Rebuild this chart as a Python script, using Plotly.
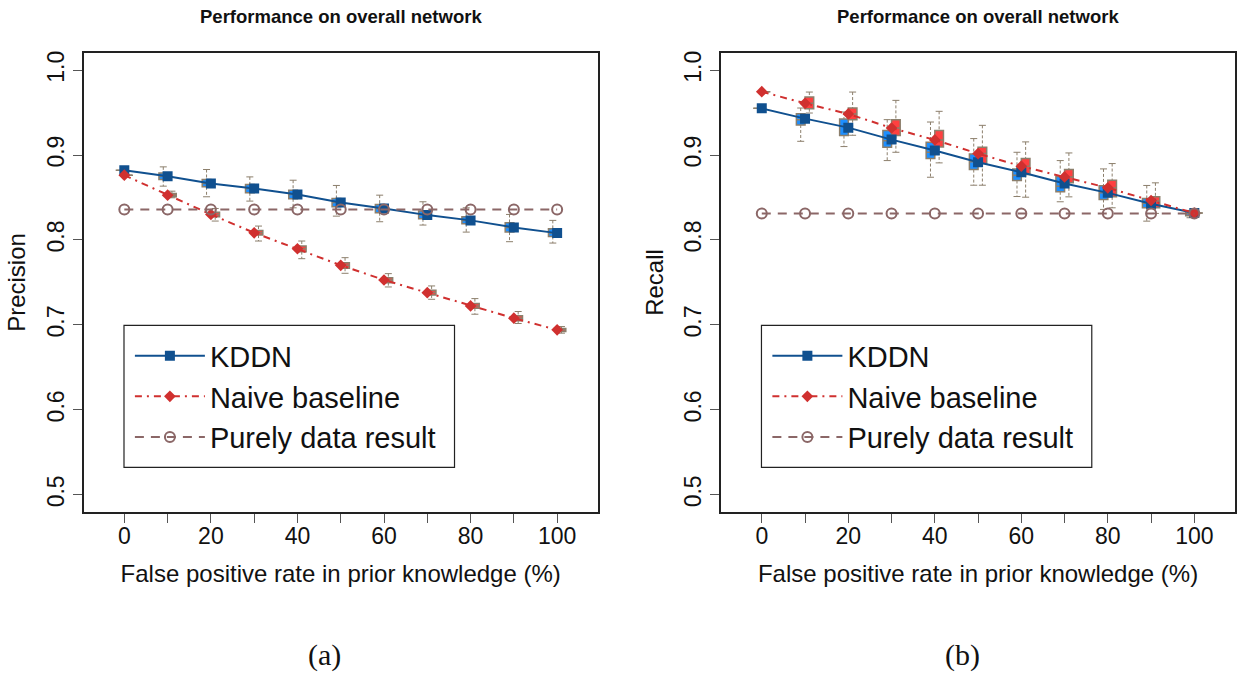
import plotly.graph_objects as go

# ---------------------------------------------------------------- data
fpr = [0, 10, 20, 30, 40, 50, 60, 70, 80, 90, 100]

# mean curves
prec_kddn = [0.882, 0.875, 0.8665, 0.8607, 0.8536, 0.8442, 0.8372, 0.8293, 0.8231, 0.8148, 0.8081]
prec_naive = [0.8763, 0.8528, 0.8301, 0.8085, 0.7897, 0.7702, 0.7529, 0.738, 0.7224, 0.7079, 0.6942]
prec_data = [0.836, 0.836, 0.836, 0.836, 0.836, 0.836, 0.836, 0.836, 0.836, 0.836, 0.836]

rec_kddn = [0.955, 0.9429, 0.9323, 0.9182, 0.9053, 0.8916, 0.8798, 0.8665, 0.8555, 0.8426, 0.8317]
rec_naive = [0.9746, 0.9609, 0.9484, 0.9319, 0.9178, 0.9017, 0.8869, 0.8743, 0.8614, 0.8465, 0.8317]
rec_data = [0.8313, 0.8313, 0.8313, 0.8313, 0.8313, 0.8313, 0.8313, 0.8313, 0.8313, 0.8313, 0.8313]

# box-plot summaries over repeated runs (precision)
prec_kddn_lo = [0.882, 0.8634, 0.8509, 0.8458, 0.8379, 0.8281, 0.8215, 0.8176, 0.8093, 0.798, 0.7964]
prec_kddn_q1 = [0.882, 0.8712, 0.8626, 0.8556, 0.8485, 0.8391, 0.8321, 0.825, 0.8191, 0.8093, 0.8042]
prec_kddn_med = [0.882, 0.8751, 0.8665, 0.8606, 0.8536, 0.8442, 0.8371, 0.8293, 0.823, 0.8148, 0.8082]
prec_kddn_q3 = [0.882, 0.879, 0.8712, 0.8653, 0.8587, 0.8489, 0.8418, 0.834, 0.8274, 0.8203, 0.8133]
prec_kddn_hi = [0.882, 0.8861, 0.883, 0.8743, 0.8704, 0.8642, 0.8528, 0.845, 0.8379, 0.8301, 0.8231]

prec_naive_lo = [0.8763, 0.8497, 0.8223, 0.7988, 0.778, 0.7608, 0.7447, 0.7302, 0.7126, 0.7017, 0.6903]
prec_naive_q1 = [0.8763, 0.8509, 0.8274, 0.8058, 0.7862, 0.7667, 0.7498, 0.7353, 0.7197, 0.7048, 0.6923]
prec_naive_med = [0.8763, 0.8528, 0.8301, 0.8086, 0.7898, 0.7702, 0.753, 0.7381, 0.7224, 0.7079, 0.6942]
prec_naive_q3 = [0.8763, 0.8548, 0.8328, 0.8113, 0.7929, 0.7733, 0.7557, 0.7408, 0.7252, 0.7107, 0.6958]
prec_naive_hi = [0.8763, 0.8575, 0.8371, 0.8164, 0.7988, 0.7792, 0.7604, 0.7459, 0.731, 0.7158, 0.6981]

# box-plot summaries over repeated runs (recall)
rec_kddn_lo = [0.955, 0.9162, 0.91, 0.8935, 0.8739, 0.8645, 0.8512, 0.845, 0.836, 0.8222, 0.8262]
rec_kddn_q1 = [0.955, 0.9354, 0.9229, 0.9092, 0.8959, 0.8829, 0.87, 0.8567, 0.8477, 0.8379, 0.8285]
rec_kddn_med = [0.955, 0.9417, 0.9339, 0.917, 0.9033, 0.892, 0.8763, 0.8634, 0.8555, 0.8434, 0.831]
rec_kddn_q3 = [0.955, 0.9487, 0.9425, 0.9288, 0.9151, 0.9013, 0.8837, 0.8747, 0.8638, 0.8489, 0.8332]
rec_kddn_hi = [0.955, 0.9554, 0.9507, 0.9417, 0.9389, 0.9194, 0.9033, 0.8935, 0.8837, 0.8642, 0.8348]

rec_naive_lo = [0.9746, 0.9495, 0.9233, 0.9033, 0.8908, 0.8645, 0.8504, 0.8508, 0.8379, 0.8313, 0.8317]
rec_naive_q1 = [0.9746, 0.9546, 0.9417, 0.9229, 0.9096, 0.89, 0.8771, 0.8673, 0.8508, 0.8379, 0.8317]
rec_naive_med = [0.9746, 0.9609, 0.9484, 0.9319, 0.9178, 0.9017, 0.8869, 0.8743, 0.8614, 0.8458, 0.8317]
rec_naive_q3 = [0.9746, 0.9683, 0.9554, 0.9417, 0.9288, 0.9092, 0.8959, 0.8829, 0.8704, 0.8508, 0.8317]
rec_naive_hi = [0.9746, 0.9742, 0.9742, 0.9644, 0.9515, 0.935, 0.9155, 0.9025, 0.89, 0.8673, 0.8317]

x_ticks = [0, 10, 20, 30, 40, 50, 60, 70, 80, 90, 100]
x_ticktext = ["0", "", "20", "", "40", "", "60", "", "80", "", "100"]
y_ticks = [0.5, 0.6, 0.7, 0.8, 0.9, 1.0]
y_ticktext = ["0.5", "0.6", "0.7", "0.8", "0.9", "1.0"]

# ---------------------------------------------------------------- styles
FONT = "Liberation Sans, Arial, sans-serif"
C_KDDN = "#10508f"
C_KDDN_BOX = "#1e8fff"
C_NAIVE = "#d0302f"
C_NAIVE_BOX = "#ff4040"
C_DATA = "#8b6767"
C_BOXLINE = "#8c7f6c"
BOX_W = 2.0

fig = go.Figure()


def add_boxes(xa, ya, pos, lo, q1, med, q3, hi, fill):
    # dashed whiskers with end caps
    wx, wy = [], []
    for p, a, b, c, d in zip(pos, lo, q1, q3, hi):
        wx += [p, p, None, p, p, None]
        wy += [d, c, None, b, a, None]
    fig.add_trace(go.Scatter(
        x=wx, y=wy, mode="lines", xaxis=xa, yaxis=ya,
        line=dict(color=C_BOXLINE, width=1, dash="3px,2px"),
        showlegend=False, hoverinfo="skip"))
    fig.add_trace(go.Scatter(
        x=pos + pos, y=lo + hi, mode="markers", xaxis=xa, yaxis=ya,
        marker=dict(symbol="line-ew", size=5, line=dict(color=C_BOXLINE, width=1)),
        showlegend=False, hoverinfo="skip"))
    fig.add_trace(go.Box(
        x=pos, q1=q1, median=med, q3=q3, lowerfence=q1, upperfence=q3,
        width=BOX_W, whiskerwidth=0, fillcolor=fill,
        line=dict(color=C_BOXLINE, width=1.5),
        xaxis=xa, yaxis=ya, showlegend=False, hoverinfo="skip"))


def add_panel(xa, ya, legend, kddn, naive, data, boxes_k, boxes_n):
    left = [x - BOX_W / 2 for x in fpr]
    right = [x + BOX_W / 2 for x in fpr]
    add_boxes(xa, ya, left, *boxes_k, C_KDDN_BOX)
    add_boxes(xa, ya, right, *boxes_n, C_NAIVE_BOX)
    fig.add_trace(go.Scatter(
        x=fpr, y=kddn, name="KDDN", mode="lines+markers", xaxis=xa, yaxis=ya,
        legend=legend,
        line=dict(color=C_KDDN, width=2),
        marker=dict(symbol="square", size=10, color=C_KDDN)))
    fig.add_trace(go.Scatter(
        x=fpr, y=naive, name="Naive baseline", mode="lines+markers", xaxis=xa, yaxis=ya,
        legend=legend,
        line=dict(color=C_NAIVE, width=2, dash="7px,5px,2px,5px"),
        marker=dict(symbol="diamond", size=9, color=C_NAIVE)))
    fig.add_trace(go.Scatter(
        x=fpr, y=data, name="Purely data result", mode="lines+markers", xaxis=xa, yaxis=ya,
        legend=legend,
        line=dict(color=C_DATA, width=2, dash="9px,7px"),
        marker=dict(symbol="circle-open", size=10, color=C_DATA, line=dict(width=2))))


add_panel("x", "y", "legend", prec_kddn, prec_naive, prec_data,
          (prec_kddn_lo, prec_kddn_q1, prec_kddn_med, prec_kddn_q3, prec_kddn_hi),
          (prec_naive_lo, prec_naive_q1, prec_naive_med, prec_naive_q3, prec_naive_hi))
add_panel("x2", "y2", "legend2", rec_kddn, rec_naive, rec_data,
          (rec_kddn_lo, rec_kddn_q1, rec_kddn_med, rec_kddn_q3, rec_kddn_hi),
          (rec_naive_lo, rec_naive_q1, rec_naive_med, rec_naive_q3, rec_naive_hi))

W, H = 1237, 673


def px_x(p):
    return p / W


def px_y(p):
    return 1 - p / H


TICKFONT = dict(family=FONT, size=23, color="#111")
TITLEFONT = dict(family=FONT, size=24, color="#111")

xaxis_common = dict(
    range=[-9.4, 109.4], tickmode="array", tickvals=x_ticks, ticktext=x_ticktext,
    ticks="outside", ticklen=9, tickwidth=1, tickcolor="#555",
    showline=True, linecolor="#222", linewidth=1.5, mirror=True,
    showgrid=False, zeroline=False, ticklabelstandoff=-6,
    tickfont=TICKFONT,
    title=dict(text="False positive rate in prior knowledge (%)", standoff=17, font=TITLEFONT),
)
yaxis_common = dict(
    range=[0.48, 1.02], tickmode="array", tickvals=y_ticks, ticktext=y_ticktext,
    ticks="outside", ticklen=9, tickwidth=1, tickcolor="#555", tickangle=-90,
    showline=True, linecolor="#222", linewidth=1.5, mirror=True,
    showgrid=False, zeroline=False, ticklabelstandoff=0,
    tickfont=TICKFONT,
)

y_dom = [px_y(511.3), px_y(51.3)]
legend_common = dict(
    bgcolor="rgba(0,0,0,0)", borderwidth=0,
    font=dict(family=FONT, size=29, color="#111"),
    itemwidth=70, xanchor="left", yanchor="middle", tracegroupgap=0,
)

fig.update_layout(
    width=W, height=H, paper_bgcolor="white", plot_bgcolor="white",
    margin=dict(l=0, r=0, t=0, b=0),
    boxmode="overlay",
    xaxis=dict(domain=[px_x(83.7), px_x(598.3)], anchor="y", **xaxis_common),
    yaxis=dict(domain=y_dom, anchor="x", **yaxis_common,
               title=dict(text="Precision", standoff=10, font=TITLEFONT)),
    xaxis2=dict(domain=[px_x(721.7), px_x(1236)], anchor="y2", **xaxis_common),
    yaxis2=dict(domain=y_dom, anchor="x2", **yaxis_common,
                title=dict(text="Recall", standoff=10, font=TITLEFONT)),
    legend=dict(x=px_x(130), y=px_y(396), **legend_common),
    legend2=dict(x=px_x(768), y=px_y(396), **legend_common),
)

# legend frames
for xr, yr in (("x domain", "y domain"), ("x2 domain", "y2 domain")):
    fig.add_shape(type="rect", xref=xr, yref=yr, x0=0.0785, x1=0.7213, y0=0.097, y1=0.4065,
                  line=dict(color="#222", width=1.2), fillcolor="rgba(0,0,0,0)")

# panel titles and captions
for xc, cap in ((341, "(a)"), (979, "(b)")):
    fig.add_annotation(text="<b>Performance on overall network</b>", xref="paper", yref="paper",
                       x=px_x(xc), y=px_y(15), xanchor="center", yanchor="middle", showarrow=False,
                       font=dict(family=FONT, size=18.5, color="#111"))
    fig.add_annotation(text=cap, xref="paper", yref="paper",
                       x=px_x(xc - 16), y=px_y(655), xanchor="center", yanchor="middle", showarrow=False,
                       font=dict(family="Liberation Serif, DejaVu Serif, serif", size=30, color="#111"))

fig.write_html("out.html")
